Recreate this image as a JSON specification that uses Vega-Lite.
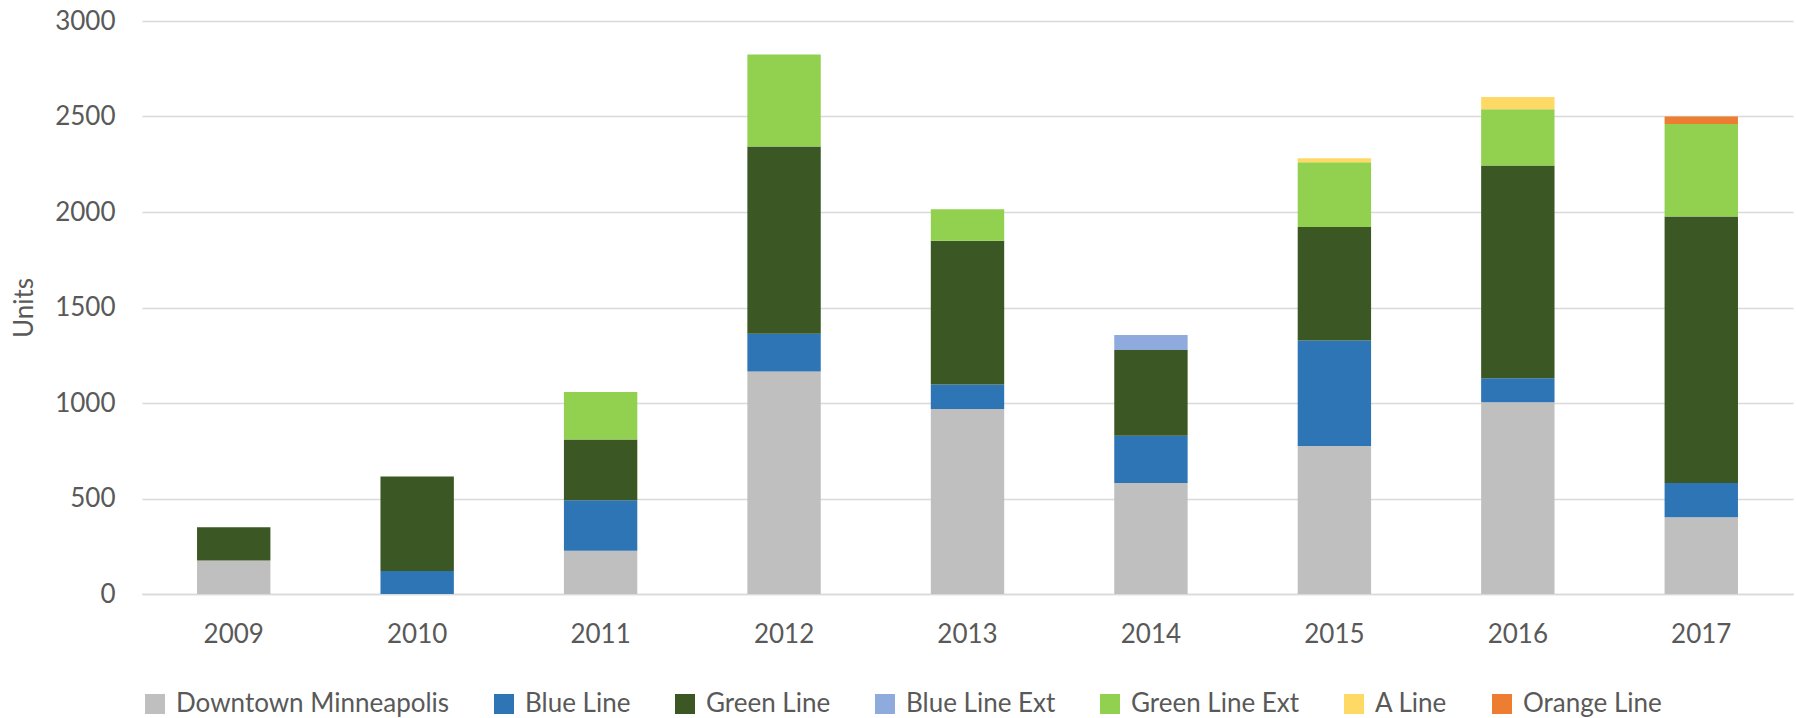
{
  "$schema": "https://vega.github.io/schema/vega-lite/v6.json",
  "width": 1651,
  "height": 573,
  "autosize": {"type": "none"},
  "padding": {"left": 142, "top": 21, "right": 3, "bottom": 124},
  "background": "white",
  "config": {
    "font": "Lato",
    "view": {"stroke": null},
    "axis": {"labelFont": "Lato", "labelFontSize": 26, "labelColor": "#595959", "titleFont": "Lato", "titleFontSize": 26, "titleColor": "#595959", "titleFontWeight": "normal"},
    "legend": {"labelFont": "Lato", "labelFontSize": 26, "labelColor": "#595959"}
  },
  "data": {
    "values": [
      {"year": "2009", "series": "Downtown Minneapolis", "units": 175},
      {"year": "2009", "series": "Green Line", "units": 175},
      {"year": "2010", "series": "Blue Line", "units": 120},
      {"year": "2010", "series": "Green Line", "units": 495},
      {"year": "2011", "series": "Downtown Minneapolis", "units": 226},
      {"year": "2011", "series": "Blue Line", "units": 265},
      {"year": "2011", "series": "Green Line", "units": 318},
      {"year": "2011", "series": "Green Line Ext", "units": 248},
      {"year": "2012", "series": "Downtown Minneapolis", "units": 1165},
      {"year": "2012", "series": "Blue Line", "units": 197},
      {"year": "2012", "series": "Green Line", "units": 981},
      {"year": "2012", "series": "Green Line Ext", "units": 481},
      {"year": "2013", "series": "Downtown Minneapolis", "units": 968},
      {"year": "2013", "series": "Blue Line", "units": 129},
      {"year": "2013", "series": "Green Line", "units": 752},
      {"year": "2013", "series": "Green Line Ext", "units": 166},
      {"year": "2014", "series": "Downtown Minneapolis", "units": 581},
      {"year": "2014", "series": "Blue Line", "units": 248},
      {"year": "2014", "series": "Green Line", "units": 448},
      {"year": "2014", "series": "Blue Line Ext", "units": 79},
      {"year": "2015", "series": "Downtown Minneapolis", "units": 775},
      {"year": "2015", "series": "Blue Line", "units": 552},
      {"year": "2015", "series": "Green Line", "units": 595},
      {"year": "2015", "series": "Green Line Ext", "units": 338},
      {"year": "2015", "series": "A Line", "units": 21},
      {"year": "2016", "series": "Downtown Minneapolis", "units": 1004},
      {"year": "2016", "series": "Blue Line", "units": 126},
      {"year": "2016", "series": "Green Line", "units": 1113},
      {"year": "2016", "series": "Green Line Ext", "units": 295},
      {"year": "2016", "series": "A Line", "units": 64},
      {"year": "2017", "series": "Downtown Minneapolis", "units": 402},
      {"year": "2017", "series": "Blue Line", "units": 179},
      {"year": "2017", "series": "Green Line", "units": 1395},
      {"year": "2017", "series": "Green Line Ext", "units": 485},
      {"year": "2017", "series": "Orange Line", "units": 39}
    ]
  },
  "transform": [
    {"calculate": "indexof(['Downtown Minneapolis','Blue Line','Green Line','Blue Line Ext','Green Line Ext','A Line','Orange Line'], datum.series)", "as": "stackOrder"}
  ],
  "mark": {"type": "bar"},
  "encoding": {
    "x": {
      "field": "year", "type": "ordinal",
      "scale": {"paddingInner": 0.6, "paddingOuter": 0.3},
      "axis": {"title": null, "labelAngle": 0, "ticks": false, "labelPadding": 27, "domainColor": "#D9D9D9", "domainWidth": 1.5, "grid": false}
    },
    "y": {
      "field": "units", "type": "quantitative", "stack": "zero",
      "scale": {"domain": [0, 3000], "nice": false},
      "axis": {"title": "Units", "format": "d", "values": [0, 500, 1000, 1500, 2000, 2500, 3000], "domain": false, "ticks": false, "labelPadding": 27, "gridColor": "#D9D9D9", "gridWidth": 1.5, "titlePadding": 17}
    },
    "color": {
      "field": "series", "type": "nominal",
      "scale": {
        "domain": ["Downtown Minneapolis", "Blue Line", "Green Line", "Blue Line Ext", "Green Line Ext", "A Line", "Orange Line"],
        "range": ["#BFBFBF", "#2E75B6", "#3B5723", "#8FAADC", "#92D050", "#FFD966", "#ED7D31"]
      },
      "legend": {"title": null, "orient": "bottom", "direction": "horizontal", "symbolType": "square", "symbolSize": 400, "symbolStrokeWidth": 0, "labelOffset": 8, "labelLimit": 0, "columnPadding": 41, "offset": 44}
    },
    "order": {"field": "stackOrder", "type": "quantitative"}
  }
}
